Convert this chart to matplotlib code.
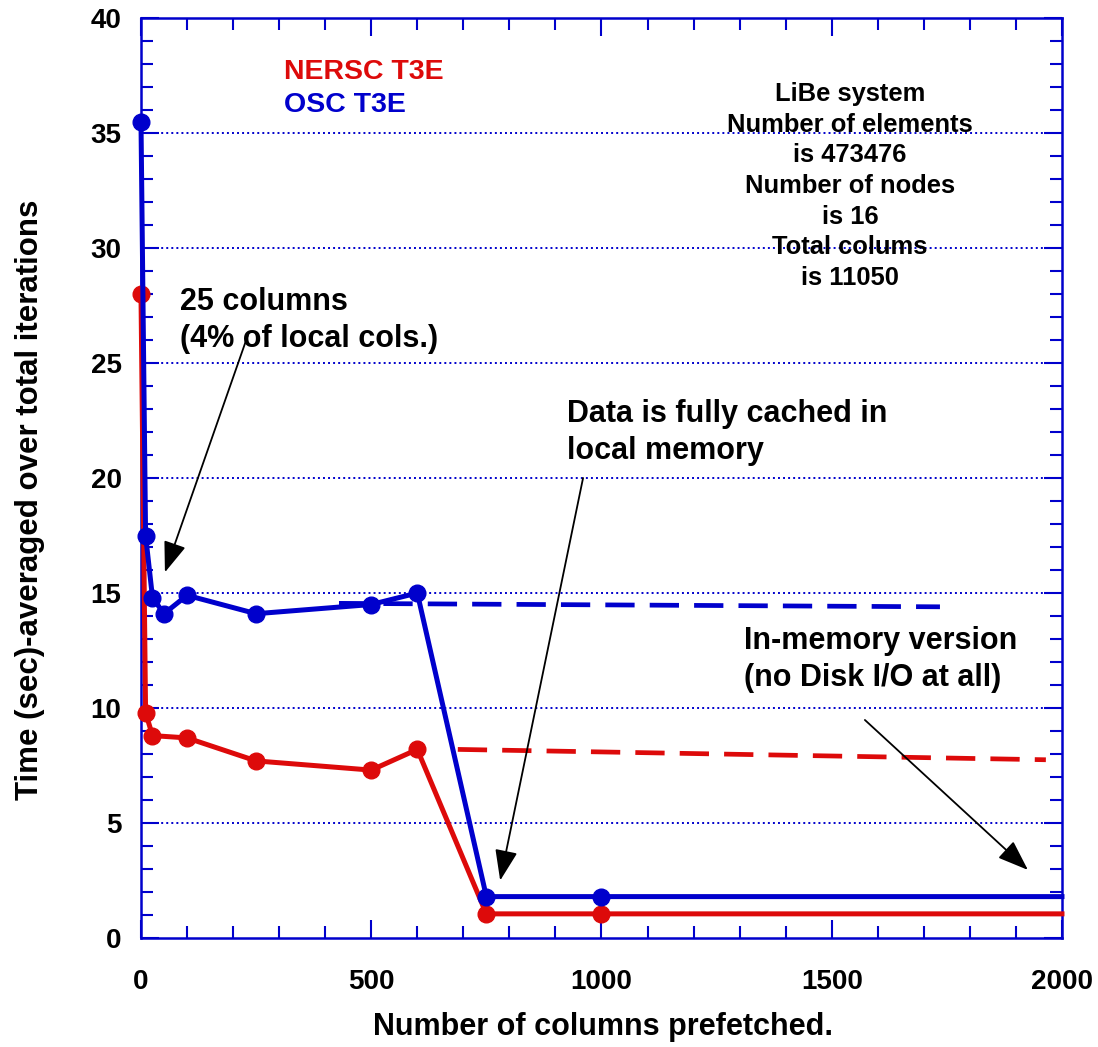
import numpy as np
import matplotlib
matplotlib.use('Agg')
import matplotlib.pyplot as plt
from matplotlib.ticker import MultipleLocator

plt.rcParams['font.family'] = ['Liberation Sans', 'DejaVu Sans']
plt.rcParams['font.weight'] = 'bold'

blue = '#0000cc'
red = '#dd0a0a'

# measured runs
osc_x = [0, 10, 25, 50, 100, 250, 500, 600, 750, 1000, 2000]
osc_y = [35.5, 17.5, 14.8, 14.1, 14.9, 14.1, 14.5, 15.0, 1.8, 1.8, 1.8]
nersc_x = [0, 10, 25, 100, 250, 500, 600, 750, 1000, 2000]
nersc_y = [28.0, 9.8, 8.8, 8.7, 7.7, 7.3, 8.2, 1.05, 1.05, 1.05]

# in-memory version (dashed)
osc_mem_x = [430, 1735]
osc_mem_y = [14.55, 14.4]
nersc_mem_x = [688, 1965]
nersc_mem_y = [8.2, 7.75]

fig = plt.figure(figsize=(10.98, 10.47), dpi=100)
ax = fig.add_axes([0.1284, 0.1041, 0.8388, 0.8787])

for y in range(5, 40, 5):
    ax.axhline(y, color=blue, lw=1.4, ls=(0, (1, 1.6)), zorder=1)

ax.plot(osc_mem_x, osc_mem_y, color=blue, lw=3.4, dashes=(6.2, 3.2), zorder=2)
ax.plot(nersc_mem_x, nersc_mem_y, color=red, lw=3.4, dashes=(6.2, 3.2), zorder=2)

ax.plot(nersc_x, nersc_y, color=red, lw=3.6, marker='o', ms=12,
        markevery=list(range(len(nersc_x) - 1)), clip_on=False, zorder=3)
ax.plot(osc_x, osc_y, color=blue, lw=3.6, marker='o', ms=12,
        markevery=list(range(len(osc_x) - 1)), clip_on=False, zorder=4)

ax.set_xlim(0, 2000)
ax.set_ylim(0, 40)
ax.xaxis.set_major_locator(MultipleLocator(500))
ax.xaxis.set_minor_locator(MultipleLocator(100))
ax.yaxis.set_major_locator(MultipleLocator(5))
ax.yaxis.set_minor_locator(MultipleLocator(1))
ax.tick_params(which='both', direction='in', top=True, right=True, color=blue, width=1.5)
ax.tick_params(which='major', length=13, labelsize=20)
ax.tick_params(which='minor', length=8.5)
ax.tick_params(axis='x', which='major', pad=22)
ax.tick_params(axis='y', which='major', pad=14)
for lab in ax.get_xticklabels() + ax.get_yticklabels():
    lab.set_fontweight('bold')
for s in ax.spines.values():
    s.set_color(blue)
    s.set_linewidth(1.8)

ax.set_xlabel('Number of columns prefetched.', fontsize=22, fontweight='bold')
ax.set_ylabel('Time (sec)-averaged over total iterations', fontsize=22.5, fontweight='bold')
ax.xaxis.set_label_coords(0.5016, -0.0967)
ax.yaxis.set_label_coords(-0.1205, 0.476)
ax.xaxis.label.set_va('center')
ax.yaxis.label.set_va('center')

ax.text(310, 37.65, 'NERSC T3E', color=red, fontsize=20.5, fontweight='bold', va='center')
ax.text(310, 36.2, 'OSC T3E', color=blue, fontsize=20.5, fontweight='bold', va='center')

ax.text(1540, 32.7, 'LiBe system\nNumber of elements\nis 473476\nNumber of nodes\nis 16\nTotal colums\nis 11050',
        fontsize=18.4, fontweight='bold', ha='center', va='center', linespacing=1.35)

ax.text(85, 28.3, '25 columns\n(4% of local cols.)', fontsize=22, fontweight='bold',
        va='top', linespacing=1.3)
ax.text(925, 23.45, 'Data is fully cached in\nlocal memory', fontsize=22, fontweight='bold',
        va='top', linespacing=1.3)
ax.text(1310, 13.55, 'In-memory version\n(no Disk I/O at all)', fontsize=22, fontweight='bold',
        va='top', linespacing=1.3)

arrow = dict(arrowstyle='-|>,head_length=1.9,head_width=0.7', color='black', lw=1.3,
             shrinkA=0, shrinkB=0)
ax.annotate('', xy=(52, 15.9), xytext=(232, 26.2), arrowprops=arrow)
ax.annotate('', xy=(780, 2.5), xytext=(960, 20.0), arrowprops=arrow)
ax.annotate('', xy=(1926, 2.96), xytext=(1572, 9.48), arrowprops=arrow)

fig.savefig('out.png', dpi=100)
